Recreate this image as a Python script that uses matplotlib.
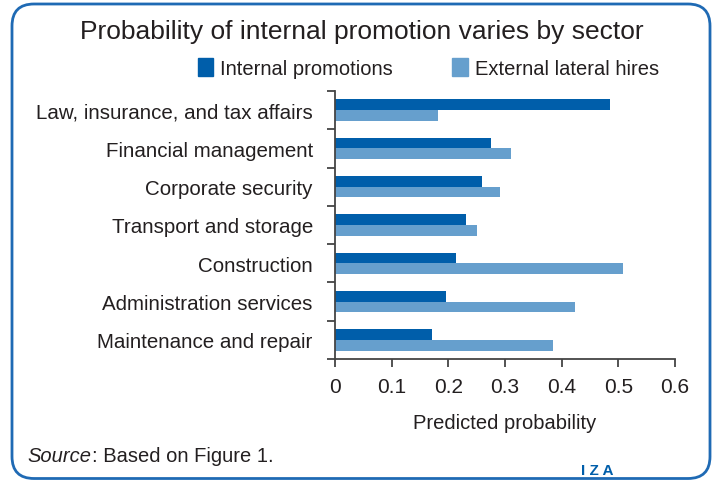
import matplotlib
matplotlib.use("Agg")
import matplotlib.pyplot as plt
from matplotlib.patches import FancyBboxPatch, Patch
from matplotlib.transforms import IdentityTransform

# data
sectors = ["Law, insurance, and tax affairs", "Financial management",
           "Corporate security", "Transport and storage", "Construction",
           "Administration services", "Maintenance and repair"]
internal = [0.485, 0.275, 0.259, 0.231, 0.213, 0.196, 0.171]
external = [0.182, 0.310, 0.291, 0.250, 0.508, 0.423, 0.384]
xticks = [0, 0.1, 0.2, 0.3, 0.4, 0.5, 0.6]
xtick_labels = ["0", "0.1", "0.2", "0.3", "0.4", "0.5", "0.6"]

plt.rcParams["font.family"] = ["Liberation Sans", "DejaVu Sans"]

dark = "#005EAA"
light = "#669FCD"
text_col = "#231F20"

fig = plt.figure(figsize=(7.14, 4.81), dpi=100)
ax = fig.add_axes([0.4692, 0.2516, 0.4762, 0.5572])

n = len(sectors)
pos = [n - 1 - i for i in range(n)]
h = 0.28
ax.barh([p + h / 2 for p in pos], internal, height=h, color=dark)
ax.barh([p - h / 2 for p in pos], external, height=h, color=light)

ax.set_xlim(0, 0.6)
ax.set_ylim(-0.5, n - 0.5)
ax.set_xticks(xticks)
ax.set_xticklabels(xtick_labels)
ax.set_yticks(pos)
ax.set_yticklabels(sectors)
# ticks sit on the category boundaries
ax.set_yticks([p - 0.5 for p in range(n + 1)], minor=True)
ax.tick_params(axis="y", which="major", length=0, pad=16, labelsize=14.8, labelcolor=text_col)
ax.tick_params(axis="y", which="minor", length=6, width=1.3, color="#444444")
ax.tick_params(axis="x", length=6, width=1.3, color="#444444", labelsize=15,
               labelcolor=text_col, pad=7)
for s in ["top", "right"]:
    ax.spines[s].set_visible(False)
for s in ["left", "bottom"]:
    ax.spines[s].set_color("#444444")
    ax.spines[s].set_linewidth(1.3)
ax.set_xlabel("Predicted probability", fontsize=14.5, color=text_col, labelpad=12)

fig.text(0.507, 0.933, "Probability of internal promotion varies by sector",
         ha="center", va="center", fontsize=19, color=text_col)

handles = [Patch(color=dark), Patch(color=light)]
fig.legend(handles, ["Internal promotions", "External lateral hires"],
           loc="center", bbox_to_anchor=(0.6, 0.857), ncol=2, frameon=False,
           fontsize=14.5, handlelength=0.75, handleheight=1.0, handletextpad=0.35,
           columnspacing=2.95, labelcolor=text_col)

src = fig.text(0.039, 0.039, "Source", fontstyle="italic", fontsize=14.5, color=text_col,
               ha="left", va="baseline")
ax.annotate(": Based on Figure 1.", xy=(1, 0), xycoords=src, va="bottom", ha="left",
            fontsize=14.5, color=text_col, annotation_clip=False)
fig.text(0.836, 0.0125, "I Z A", fontsize=11, color=dark, fontweight="bold",
         ha="center", va="baseline")

frame = FancyBboxPatch((12, 1.5), 698, 474.5, transform=IdentityTransform(),
                       boxstyle="round,pad=0,rounding_size=22",
                       fill=False, edgecolor="#1F6AB4", linewidth=2)
fig.patches.append(frame)

fig.savefig("out.png", dpi=100)
